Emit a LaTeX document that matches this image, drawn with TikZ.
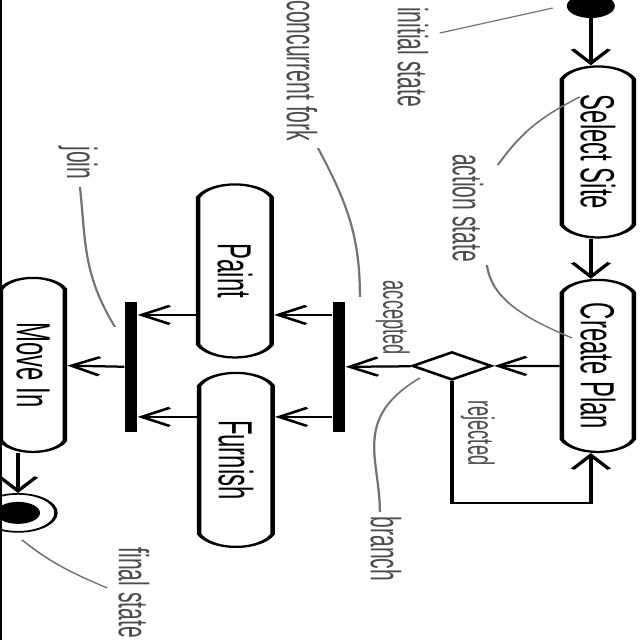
\documentclass[tikz,border=0pt]{standalone}
\usepackage{fontspec}
\setmainfont{Liberation Sans}
\usetikzlibrary{arrows.meta, shapes.misc, shapes.geometric}

\tikzset{
  action/.style={draw, line width=1.6pt, rounded rectangle, rounded rectangle arc length=140,
    rotate=-90, inner sep=0pt, font=\fontsize{17}{20}\selectfont},
  bar/.style={fill=black, inner sep=0pt, minimum width=0.15cm, minimum height=3.25cm},
  arr/.style={line width=1.6pt, -{Straight Barb[length=10pt,width=13pt]}},
  note/.style={line width=0.8pt, black!55},
  notetext/.style={rotate=-90, text=black!70, inner sep=1pt, font=\fontsize{15}{18}\selectfont},
  flowtext/.style={notetext, font=\fontsize{13}{16}\selectfont},
}

\begin{document}
\begin{tikzpicture}
    \useasboundingbox (0,0) rectangle (16,-16);
    \draw[line width=1.2pt] (0.03,0) -- (0.03,-16);

    % whole diagram is stretched sideways, coordinates in pixels
    \begin{scope}[x=0.0125cm, y=0.025cm, transform canvas={xscale=2}]
        % states
        \node[circle, fill=black, inner sep=0pt, minimum size=0.6cm] (init) at (591,-6) {};
        \node[action, minimum width=4.275cm, minimum height=0.9cm] (sel) at (598,-152) {Select Site};
        \node[action, minimum width=4.3cm, minimum height=0.9cm] (plan) at (598,-366) {Create Plan};
        \node[diamond, draw, line width=1.6pt, inner sep=0pt, minimum width=1cm, minimum height=0.7cm] (dec) at (452,-366) {};
        \node[bar] (fork) at (339,-367) {};
        \node[action, minimum width=4.325cm, minimum height=0.92cm] (paint) at (235,-271) {Paint};
        \node[action, minimum width=4.35cm, minimum height=0.92cm] (furn) at (236,-460) {Furnish};
        \node[bar] (join) at (131,-367) {};
        \node[action, minimum width=4.35cm, minimum height=0.8cm] (move) at (33,-365) {Move In};
        \node[circle, draw, line width=1.2pt, inner sep=0pt, minimum size=0.95cm] (final) at (18,-513) {};
        \node[circle, fill=black, inner sep=0pt, minimum size=0.55cm] (finaldot) at (final) {};

        \coordinate (p) at (0,-315);
        \coordinate (f) at (0,-417);
        \coordinate (back) at (591,-503);

        % transitions
        \draw[arr] (init) -- (init |- sel.west);
        \draw[arr] (init |- sel.east) -- (init |- plan.west);
        \draw[arr] (plan) -- (dec);
        \draw[arr] (dec.south) |- (back) -- (back |- plan.east);
        \draw[arr] (dec) -- (fork);
        \draw[arr] (fork.west |- p) -- (paint.north |- p);
        \draw[arr] (fork.west |- f) -- (furn.north |- f);
        \draw[arr] (paint.south |- p) -- (join.east |- p);
        \draw[arr] (furn.south |- f) -- (join.east |- f);
        \draw[arr] (join) -- (move);
        \draw[arr] (move.east -| final) -- (final);

        \node[flowtext] (lblacc) at (393,-318) {accepted};
        \node[flowtext] (lblrej) at (478,-433) {rejected};

        % notes
        \node[notetext] (lblinit) at (413,-57) {initial state};
        \node[notetext] (lblaction) at (468,-208) {action state};
        \node[notetext] (lblfork) at (302,-71) {concurrent fork};
        \node[notetext] (lbljoin) at (78,-163) {join};
        \node[notetext] (lblbranch) at (386,-549) {branch};
        \node[notetext] (lblfinal) at (134,-593) {final state};

        \coordinate (ni1) at (440,-33);  \coordinate (ni2) at (553,-8);
        \coordinate (na1) at (498,-165); \coordinate (na2) at (580,-97);
        \coordinate (nb1) at (487,-265); \coordinate (nb2) at (572,-338);
        \coordinate (nf1) at (318,-148); \coordinate (nf2) at (360,-297);
        \coordinate (nj1) at (80,-187);  \coordinate (nj2) at (115,-327);
        \coordinate (nr1) at (380,-512); \coordinate (nr2) at (420,-378);
        \coordinate (ne1) at (22,-540);  \coordinate (ne2) at (107,-588);

        \draw[note] (ni1) -- (ni2);
        \draw[note] (na1) to[out=70, in=225] (na2);
        \draw[note] (nb1) to[out=-86, in=140] (nb2);
        \draw[note] (nf1) to[out=-75, in=90] (nf2);
        \draw[note] (nj1) to[out=-87, in=107] (nj2);
        \draw[note] (nr1) to[out=90, in=230] (nr2);
        \draw[note] (ne1) to[out=-58, in=140] (ne2);
    \end{scope}
\end{tikzpicture}
\end{document}
